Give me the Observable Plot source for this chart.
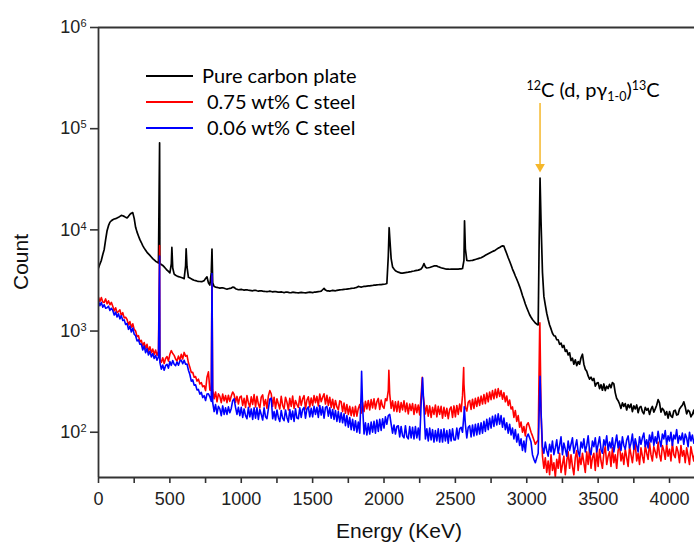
<!DOCTYPE html>
<html><head><meta charset="utf-8">
<script src="https://cdn.jsdelivr.net/npm/d3@7"></script>
<script src="https://cdn.jsdelivr.net/npm/@observablehq/plot@0.6"></script>
<style>
html,body{margin:0;padding:0;background:#fff;}
#chart{position:relative;width:694px;height:543px;overflow:hidden;}
</style></head><body><div id="chart"></div>
<script>
// Spectrum: counts per 10 keV channel group, starting at 0 keV
const binWidth = 10;
const blackCounts = [
4200,4600,5000,5700,6400,8000,9800,11000,11900,12300,
12600,12800,12900,13100,13300,13600,13900,13800,13600,13300,
13100,13600,14200,14600,14800,13000,10600,9500,8700,8000,
7500,7000,6600,6300,6000,5800,5600,5400,5200,5050,
4900,4800,4700,4650,4550,4450,4300,4150,4000,3880,
3750,4600,4200,3650,3560,3500,3450,3420,3380,3340,
3300,4400,4300,3400,3350,3280,3220,3180,3150,3120,
3100,3090,3080,3100,3150,3300,3430,3000,2850,3800,
3000,2760,2720,2700,2680,2660,2670,2680,2650,2620,
2600,2620,2640,2660,2720,2700,2620,2590,2560,2570,
2580,2560,2540,2550,2560,2530,2520,2510,2500,2520,
2530,2500,2480,2490,2500,2480,2470,2460,2450,2460,
2480,2460,2440,2450,2460,2440,2420,2430,2440,2420,
2400,2420,2430,2410,2390,2400,2420,2410,2400,2390,
2380,2400,2410,2400,2390,2380,2400,2410,2420,2410,
2400,2420,2430,2440,2450,2460,2480,2560,2640,2540,
2500,2490,2480,2500,2520,2510,2500,2520,2540,2550,
2560,2570,2580,2590,2600,2610,2620,2640,2650,2660,
2680,2700,2760,2740,2720,2740,2760,2770,2780,2790,
2800,2810,2820,2840,2850,2860,2870,2880,2880,2890,
2900,2920,2950,5500,8500,5200,4300,4100,3950,3880,
3820,3780,3730,3740,3760,3780,3800,3820,3850,3870,
3900,3920,3950,3980,4000,4050,4100,4300,4650,4300,
4200,4220,4250,4300,4350,4400,4420,4400,4320,4280,
4220,4180,4150,4120,4100,4090,4080,4090,4100,4100,
4090,4100,4100,4110,4120,4150,5000,6500,5000,4950,
4950,4980,5000,5050,5100,5150,5200,5250,5300,5400,
5500,5600,5700,5800,5900,6000,6100,6200,6300,6450,
6600,6700,6850,6950,6900,6300,5800,5300,4900,4500,
4100,3800,3500,3250,3000,2750,2500,2250,2050,1850,
1700,1570,1450,1370,1300,1250,1200,1170,1150,15000,
12000,3800,2200,1800,1500,1300,1150,1050,950,900,
890,820,820,740,760,690,720,630,650,580,
610,510,540,470,520,455,500,470,545,590,
470,420,400,360,335,350,325,340,285,305,
310,270,295,260,300,258,285,270,298,275,
310,300,245,215,205,190,172,195,180,192,
166,188,175,190,160,182,170,186,156,176,
180,160,152,176,165,172,150,168,180,158,
170,185,210,195,158,172,165,148,160,138,
160,145,140,162,165,148,150,170,178,185,
200,178,152,165,160,142,150,165,140,160];
const redCounts = [
2160,1960,2140,1940,1920,2080,1860,1990,1820,1920,
1760,1580,1700,1520,1560,1620,1420,1520,1350,1370,
1300,1150,1240,1090,1180,1040,1000,880,900,780,
810,710,770,670,740,630,700,610,665,585,
650,575,630,525,490,545,478,535,560,505,
590,640,600,575,530,505,565,515,590,530,
615,565,575,485,440,390,392,350,355,320,
335,300,310,282,288,258,350,395,262,258,
262,214,250,200,240,226,196,238,204,230,
196,232,202,228,250,236,198,226,190,222,
228,184,216,176,230,196,178,224,188,236,
178,226,190,174,222,234,182,210,172,228,
258,240,180,222,172,214,190,170,226,184,
170,222,198,166,216,180,228,172,206,188,
176,226,184,214,230,170,208,224,178,218,
184,230,196,226,182,238,200,222,240,190,
232,184,222,176,212,170,206,178,166,204,
200,160,194,154,188,150,180,146,176,144,
180,144,172,188,154,196,160,202,170,206,
166,210,174,214,170,200,216,168,208,180,
172,214,205,260,240,172,204,162,200,160,
202,158,196,166,204,160,194,152,190,164,
192,150,188,156,186,148,230,260,200,152,
184,144,182,140,176,150,186,142,180,150,
180,138,176,144,172,136,168,178,140,182,
142,184,150,190,160,230,300,176,162,198,
206,168,212,172,216,180,222,184,228,190,
236,192,244,200,250,210,258,214,266,220,
270,226,258,212,246,200,228,184,208,170,
178,140,164,128,146,112,126,100,114,92,
118,124,112,100,92,84,76,80,84,1000,
160,58,44,56,40,52,38,60,42,50,
36,54,44,62,40,48,58,38,52,64,
44,60,46,38,56,66,42,58,48,62,
50,40,64,48,70,44,56,62,42,66,
46,68,52,44,62,72,48,58,64,46,
70,50,60,44,66,74,52,62,48,68,
56,46,72,60,50,66,76,52,62,48,
70,58,50,74,62,54,78,60,52,72,
64,56,80,60,52,74,66,54,76,58,
68,52,78,60,56,72,64,50,74,58,
66,50,70,58,48,72,60,52,68,56];
const blueCounts = [
1960,1780,1920,1720,1820,1680,1700,1760,1600,1680,
1600,1440,1540,1380,1480,1320,1420,1270,1290,1160,
1190,1040,1120,980,1070,930,900,800,820,740,
745,650,710,610,670,580,630,555,600,535,
575,515,555,490,420,462,410,455,470,430,
500,458,512,470,455,495,460,505,515,475,
515,470,472,410,372,320,330,292,295,262,
265,238,248,220,230,206,238,240,224,202,
196,160,188,152,180,170,146,182,150,174,
150,178,156,172,205,214,176,150,176,146,
176,140,170,146,136,176,142,170,134,174,
138,174,134,168,150,132,174,142,136,170,
212,218,136,160,132,166,140,128,164,138,
130,166,140,126,168,134,162,128,170,138,
136,174,140,168,176,138,170,178,142,172,
142,180,150,176,140,184,148,178,138,176,
180,144,174,138,168,134,164,128,160,126,
156,124,152,116,146,112,140,106,134,104,
130,100,126,98,250,180,96,124,94,122,
96,126,100,128,98,132,102,134,104,136,
110,142,120,146,150,120,98,118,96,114,
116,90,114,92,88,116,90,86,114,88,
112,86,114,88,110,84,190,345,170,86,
108,82,110,84,106,80,104,82,108,80,
106,80,108,82,104,78,106,82,108,84,
84,110,86,108,112,100,150,120,88,112,
116,90,118,92,120,94,122,96,124,98,
128,102,134,106,138,110,144,114,148,118,
152,120,146,112,138,106,124,98,120,94,
110,86,106,80,96,74,86,66,82,64,
90,96,88,80,60,54,50,56,62,250,
160,72,62,80,66,58,76,64,82,60,
70,84,62,74,90,60,78,68,58,82,
66,76,88,62,72,84,64,58,80,70,
86,64,74,92,66,60,82,72,88,64,
76,90,68,62,84,74,92,66,80,70,
88,64,78,94,70,82,66,90,74,68,
84,92,70,78,96,68,86,74,64,90,
76,88,98,72,84,70,94,80,100,74,
90,78,102,84,72,96,86,104,76,92,
82,100,74,94,86,106,78,92,84,98,
76,96,88,72,100,82,94,78,90,84];
// Peak apexes [energy keV, counts]
const blackPeaks = [[428,72600],[514,6700],[614,6500],[795,6450],[2036,10500],[2564,12300],[3087,8000],[3093,32500]];
const redPeaks = [[428,7000],[795,3500],[2034,410],[2268,350],[2558,435],[3092,1210]];
const bluePeaks = [[428,5500],[795,3700],[1843,400],[2562,178],[3093,358]];

const seriesNames = ["Pure carbon plate", "0.75 wt% C steel", "0.06 wt% C steel"];
const seriesColors = ["#000000", "#ff0000", "#0000ff"];
const xTicks = [0,250,500,750,1000,1250,1500,1750,2000,2250,2500,2750,3000,3250,3500,3750,4000];
const yTicks = [1e2,1e3,1e4,1e5,1e6];
const xDomain = [0, 4175];
const yDomain = [35.7, 1e6];
// Annotation: reaction label pointing at the 12C(d,p)13C line
const annotEnergy = 3093;
const arrowFrom = 177000, arrowTo = 42000;

function build(counts, peaks) {
  return counts.map((c, i) => ({e: i * binWidth, c}))
    .concat(peaks.map(([e, c]) => ({e, c})))
    .sort((a, b) => a.e - b.e);
}
const series = [build(blackCounts, blackPeaks), build(redCounts, redPeaks), build(blueCounts, bluePeaks)];
const strokeWidths = [1.7, 1.6, 1.6];

const axisColor = "#333";
const plot = Plot.plot({
  width: 694, height: 543,
  marginLeft: 98, marginRight: 0, marginTop: 27, marginBottom: 66,
  style: {fontFamily: "'Liberation Sans', Arial, sans-serif", fontSize: "18px", color: "#222", background: "white"},
  x: {domain: xDomain, ticks: xTicks, tickFormat: d => d % 500 === 0 ? String(d) : "", tickSize: 6, tickPadding: 9, label: null},
  y: {type: "log", domain: yDomain, ticks: yTicks, tickFormat: d => "10^" + Math.round(Math.log10(d)), tickSize: 8, tickPadding: 4, label: null},
  marks: [
    ...series.map((s, k) => Plot.line(s, {x: "e", y: "c", stroke: seriesColors[k], strokeWidth: strokeWidths[k], clip: true})),
    Plot.ruleX([xDomain[0]], {stroke: axisColor, strokeWidth: 1.8}),
    Plot.ruleY([yDomain[1]], {stroke: axisColor, strokeWidth: 1.8}),
    Plot.ruleY([yDomain[0]], {stroke: axisColor, strokeWidth: 1.8}),
    Plot.ruleX([annotEnergy], {y1: arrowFrom, y2: arrowTo, stroke: "#f5b72a", strokeWidth: 1.5}),
    Plot.dot([annotEnergy], {x: d => d, y: () => arrowTo, symbol: "triangle", r: 3.6, fill: "#f5b72a", rotate: 180})
  ]
});
document.getElementById("chart").appendChild(plot);

const svg = d3.select(plot);
const ns = "http://www.w3.org/2000/svg";
svg.selectAll('g[aria-label="x-axis tick"], g[aria-label="y-axis tick"]').attr("stroke-width", 1.6).attr("stroke", axisColor);
plot.querySelectorAll("text").forEach(t => {
  const m = t.textContent.match(/^10\^(\d)$/);
  if (m) {
    t.textContent = "10";
    const ts = document.createElementNS(ns, "tspan");
    ts.setAttribute("dy", "-0.55em");
    ts.setAttribute("font-size", "11px");
    ts.textContent = m[1];
    t.appendChild(ts);
  }
});
svg.append("text").attr("transform", "translate(28,262) rotate(-90)").attr("text-anchor", "middle")
  .attr("font-size", 21).attr("fill", "#111").text("Count");
svg.append("text").attr("x", 399).attr("y", 538).attr("text-anchor", "middle")
  .attr("font-size", 21).attr("fill", "#111").text("Energy (KeV)");
// legend
const legendY = [76, 102, 128];
const legendTextX = [202, 207, 207];
const lg = svg.append("g").attr("font-family", "Lato, 'Open Sans', sans-serif").attr("font-size", 20).attr("text-anchor", "start");
seriesNames.forEach((name, k) => {
  lg.append("line").attr("x1", 146).attr("x2", 193).attr("y1", legendY[k]).attr("y2", legendY[k])
    .attr("stroke", seriesColors[k]).attr("stroke-width", 1.8);
  lg.append("text").attr("x", legendTextX[k]).attr("y", legendY[k] + 7).attr("fill", "#000").text(name);
});
// reaction annotation
const xs = plot.scale("x");
const at = svg.append("text").attr("x", xs.apply(annotEnergy) - 13).attr("y", 97).attr("text-anchor", "start")
  .attr("font-family", "Lato, 'Open Sans', sans-serif").attr("font-size", 20).attr("fill", "#000");
const parts = [["12", "sup"], ["C (d, p\u03b3", ""], ["1-0", "sub"], [")", ""], ["13", "sup"], ["C", ""]];
let state = "";
parts.forEach(([txt, kind]) => {
  const ts = at.append("tspan").text(txt);
  let dy = 0;
  if (kind === "sup") { ts.attr("font-size", 12.5); dy = state === "sub" ? -11 : -7; }
  else if (kind === "sub") { ts.attr("font-size", 12.5); dy = state === "sup" ? 11 : 4; }
  else { dy = state === "sup" ? 7 : state === "sub" ? -4 : 0; }
  if (dy) ts.attr("dy", dy);
  state = kind;
});
</script></body></html>
